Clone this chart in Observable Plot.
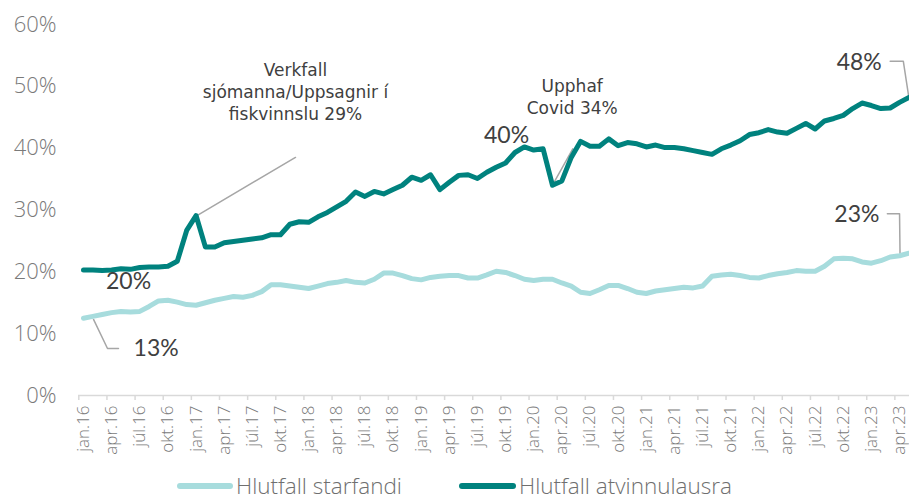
<!DOCTYPE html>
<html>
<head>
<meta charset="utf-8">
<script src="https://cdn.jsdelivr.net/npm/d3@7"></script>
<script src="https://cdn.jsdelivr.net/npm/@observablehq/plot@0.6"></script>
<style>
  html, body { margin: 0; padding: 0; background: #fff; overflow: hidden; }
  #wrap { position: relative; width: 909px; height: 502px; }
  #legend { position: relative; width: 909px; height: 40px; font-family: "Open Sans", sans-serif; font-weight: 300; font-size: 22.5px; color: #6f6f6f; }
  .sw { position: absolute; top: 21px; height: 6px; border-radius: 3px; }
  .lt { position: absolute; top: 9px; line-height: 30px; white-space: nowrap; }
</style>
</head>
<body>
<div id="wrap"><div id="chart"></div><div id="legend"></div></div>
<script>
// Monthly values, jan.16 ... maí.23 (89 months), percent
const starfandi = [
  12.5, 12.8, 13.1, 13.4, 13.6, 13.5, 13.6, 14.4, 15.3, 15.4, 15.1, 14.7,
  14.6, 15.0, 15.4, 15.7, 16.0, 15.9, 16.2, 16.8, 17.9, 17.9, 17.7, 17.5,
  17.3, 17.7, 18.1, 18.3, 18.6, 18.3, 18.2, 18.8, 19.8, 19.8, 19.4, 18.9,
  18.7, 19.1, 19.3, 19.4, 19.4, 19.0, 19.0, 19.5, 20.1, 19.9, 19.4, 18.8,
  18.6, 18.8, 18.8, 18.2, 17.7, 16.7, 16.5, 17.1, 17.8, 17.8, 17.3, 16.7,
  16.5, 16.9, 17.1, 17.3, 17.5, 17.4, 17.7, 19.3, 19.5, 19.6, 19.4, 19.1,
  19.0, 19.4, 19.7, 19.9, 20.2, 20.1, 20.1, 20.9, 22.1, 22.2, 22.1, 21.6,
  21.4, 21.8, 22.4, 22.6, 23.0
];
const atvinnulausra = [
  20.3, 20.3, 20.2, 20.3, 20.5, 20.4, 20.7, 20.8, 20.8, 20.9, 21.7, 26.7,
  29.1, 24.0, 24.0, 24.7, 24.9, 25.1, 25.3, 25.5, 26.0, 26.0, 27.7, 28.1,
  28.0, 28.9, 29.6, 30.5, 31.4, 32.9, 32.2, 33.0, 32.6, 33.3, 34.0, 35.3,
  34.8, 35.7, 33.3, 34.5, 35.6, 35.7, 35.1, 36.1, 36.9, 37.6, 39.3, 40.2,
  39.7, 39.9, 34.0, 34.7, 38.5, 41.1, 40.3, 40.3, 41.5, 40.4, 40.9, 40.7,
  40.2, 40.5, 40.1, 40.1, 39.9, 39.6, 39.3, 39.0, 39.9, 40.5, 41.2, 42.2,
  42.5, 43.0, 42.6, 42.4, 43.2, 44.0, 43.1, 44.4, 44.8, 45.3, 46.4, 47.3,
  46.9, 46.4, 46.5, 47.4, 48.2
];
const tickLabels = [
  "jan.16","apr.16","júl.16","okt.16","jan.17","apr.17","júl.17","okt.17",
  "jan.18","apr.18","júl.18","okt.18","jan.19","apr.19","júl.19","okt.19",
  "jan.20","apr.20","júl.20","okt.20","jan.21","apr.21","júl.21","okt.21",
  "jan.22","apr.22","júl.22","okt.22","jan.23","apr.23"
];
const yTicks = [0, 10, 20, 30, 40, 50, 60];
const seriesNames = ["Hlutfall starfandi", "Hlutfall atvinnulausra"];
const seriesColors = ["#a7dcdd", "#00827e"];

// Annotations (in month-index / percent units)
const valueLabels = ["20%", "13%", "40%", "48%", "23%"];
const valueLabelX = [4.8, 7.75, 45.1, 82.7, 82.45];
const valueLabelY = [18.4, 7.6, 42.1, 53.9, 29.3];
const noteTexts = ["Verkfall\nsjómanna/Uppsagnir í\nfiskvinnslu 29%", "Upphaf\nCovid 34%"];
const noteX = [22.6, 52.1];
const noteY = [49.2, 48.5];
const leaderLines = [
  [[1.07, 12.3], [2.56, 7.6], [3.73, 7.6]],
  [[12.1, 29.1], [22.6, 38.5]],
  [[50.03, 34.1], [52.16, 39.9]],
  [[86.0, 54.07], [87.4, 54.07], [87.95, 48.6]],
  [[85.7, 29.4], [87.0, 29.4], [87.05, 23.0]]
];

const N = starfandi.length;
const idx = d3.range(N);
const rowsS = idx.map(i => ({i, v: starfandi[i]}));
const rowsA = idx.map(i => ({i, v: atvinnulausra[i]}));
const labelIdx = tickLabels.map((_, k) => k * 3);
const boundaries = labelIdx.map(k => k - 0.5);
const leaderRows = leaderLines.flatMap((pts, g) => pts.map(([x, y]) => ({g, x, y})));
const valueRows = valueLabels.map((t, k) => ({t, x: valueLabelX[k], y: valueLabelY[k]}));
const noteRows = noteTexts.map((t, k) => ({t, x: noteX[k], y: noteY[k]}));

const chart = Plot.plot({
  width: 909,
  height: 462,
  marginLeft: 78,
  marginRight: 0,
  marginTop: 24,
  marginBottom: 67,
  style: {fontFamily: "Open Sans, sans-serif", background: "white", overflow: "visible"},
  x: {domain: [-0.5, N - 0.5], range: [78.3, 78.3 + N * 9.38], label: null},
  y: {domain: [0, 60], label: null},
  marks: [
    Plot.ruleY([0], {stroke: "#d9d9d9", strokeWidth: 1.5}),
    Plot.axisX({ticks: boundaries, tickSize: 5, tickFormat: () => "", stroke: "#d9d9d9", strokeWidth: 1.5, label: null}),
    Plot.axisX({ticks: labelIdx, tickSize: 0, tickPadding: 10, tickRotate: -90,
      tickFormat: d => tickLabels[Math.round(d / 3)], fontSize: 17, fontWeight: 300, fill: "#7a7a7a", label: null}),
    Plot.axisY({ticks: yTicks, tickSize: 0, tickPadding: 22, tickFormat: d => d + "%",
      fontSize: 22, fontWeight: 300, fill: "#7a7a7a", label: null}),
    Plot.line(leaderRows, {x: "x", y: "y", z: "g", stroke: "#a6a6a6", strokeWidth: 1.5}),
    Plot.line(rowsS, {x: "i", y: "v", stroke: seriesColors[0], strokeWidth: 5, strokeLinejoin: "round", strokeLinecap: "round"}),
    Plot.line(rowsA, {x: "i", y: "v", stroke: seriesColors[1], strokeWidth: 5, strokeLinejoin: "round", strokeLinecap: "round"}),
    Plot.text(valueRows, {x: "x", y: "y", text: "t", fontSize: 23, fill: "#404040", fontFamily: "Lato, sans-serif"}),
    Plot.text(noteRows, {x: "x", y: "y", text: "t", fontSize: 17, lineHeight: 1.3, fill: "#404040", fontFamily: "DejaVu Sans, sans-serif"})
  ]
});
document.getElementById("chart").appendChild(chart);

// Legend
const legend = document.getElementById("legend");
const legendSwatchX = [177, 459];
const legendSwatchW = [56, 57];
seriesNames.forEach((name, k) => {
  const sw = document.createElement("div");
  sw.className = "sw";
  sw.style.left = legendSwatchX[k] + "px";
  sw.style.width = legendSwatchW[k] + "px";
  sw.style.background = seriesColors[k];
  legend.appendChild(sw);
  const t = document.createElement("div");
  t.className = "lt";
  t.style.left = (legendSwatchX[k] + legendSwatchW[k] + 3) + "px";
  t.textContent = name;
  legend.appendChild(t);
});
</script>
</body>
</html>
